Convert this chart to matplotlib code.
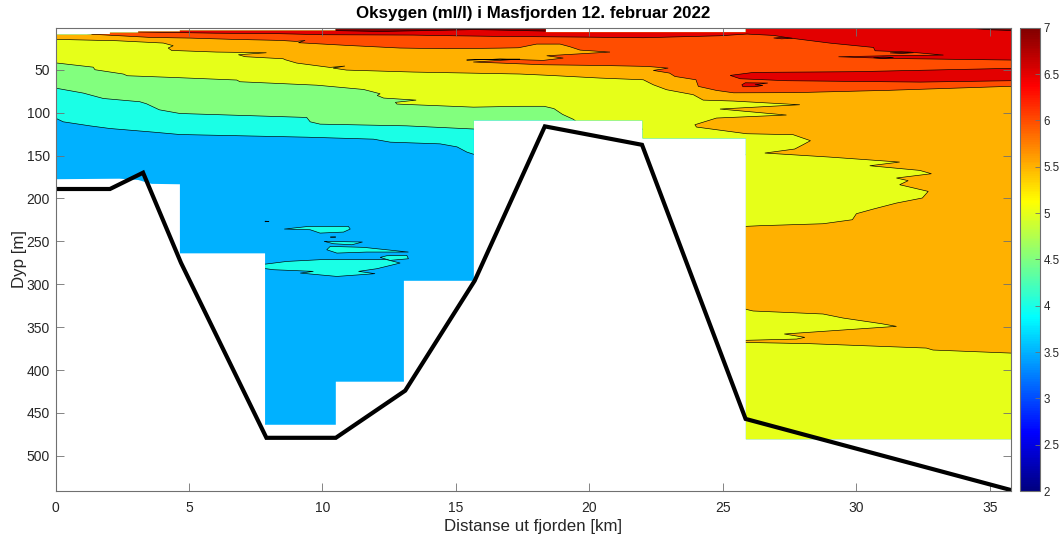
import matplotlib
matplotlib.use('Agg')
import matplotlib.pyplot as plt
from matplotlib.cm import ScalarMappable
from matplotlib.colors import LinearSegmentedColormap, Normalize

plt.rcParams['font.family'] = ['Liberation Sans', 'DejaVu Sans']

# area with measurements (km, m), white outside it
region_x = [0, 1.35, 1.35, 2.04, 2.04, 3.1, 3.1, 4.66, 4.66, 10.5, 10.5, 18.36, 18.36, 25.86, 25.86, 36.5,
            36.5, 25.86, 25.86, 21.99, 21.99, 15.67, 15.67, 13.05, 13.05, 10.5, 10.5, 7.85, 7.85, 4.66, 4.66,
            3.6, 3.1, 2.4, 0]
region_d = [9.2, 9.2, 8.4, 8.4, 6.9, 6.9, 5.7, 5.7, 4.5, 4.5, 0, 0, 6.4, 6.4, 0, 0,
            480.7, 480.7, 130, 130, 109, 109, 296, 296, 413.6, 413.6, 463.8, 463.8, 264, 264, 183.5,
            183, 178.5, 177, 177.6]

# bottom profile
bottom_x = [0, 2.04, 3.28, 4.7, 7.9, 10.5, 13.1, 15.7, 18.33, 21.97, 25.85, 35.8]
bottom_d = [189, 189, 170, 275, 479, 479, 424, 296, 116, 137.5, 457, 540]

# isolines, each one bounds the water above it
iso40_x = [-1, 0, .29, 1.29, 2.04, 3.66, 4.66, 9.41, 11.91, 12.54, 14.41, 15.04, 15.41, 15.73, 37]
iso40_d = [106, 106.4, 110.7, 115.4, 118.5, 122.7, 125.5, 128.6, 130.9, 134.4, 136.4, 139.9, 146, 149.2, 149.2]

iso45_x = [-1, 0, 1.04, 1.79, 3.16, 3.41, 3.89, 4.66, 9.41, 9.54, 9.91, 13.16, 15.73, 37]
iso45_d = [71, 71.4, 77.2, 83.5, 87.3, 89.7, 96.7, 101, 105.6, 110.7, 113.4, 115.4, 119.2, 119.2]

iso50_x = [-1, 0, 1.41, 1.48, 2.54, 2.69, 4.41, 6.79, 6.91, 9.79, 11.54, 12.16, 12.05, 12.29, 13.51, 12.73, 12.79,
           15.66, 17.42, 18.3, 18.67, 18.99, 19.4, 19.7, 21.9, 25.5, 25.5, 37]
iso50_d = [42, 42, 47, 50, 55, 57, 59, 62, 64, 68, 73, 78, 80, 83, 85.4, 88, 90,
           93.6, 92.6, 92.6, 95.3, 102, 107.8, 115, 135, 135, 500, 500]

iso55_x = [-1, 0, 2.29, 4.04, 4.41, 4.22, 4.35, 6.03, 7.9, 6.85, 7.1, 8.53, 8.6, 9.03, 10.28, 10.84, 10.4, 10.9,
           13.4, 17.4, 18.52, 20.39, 22.02, 22.39, 22.89, 23.89, 24.26, 25.39, 27.88, 24.89, 27.38, 24.76, 23.95,
           24.01, 25.89, 27.63, 28.28, 28, 27.69, 26.57, 29, 31.62, 30.5, 32.37, 32.81, 31.5, 31.94, 31.62, 32.69,
           32.47, 31.5, 30.63, 30, 29.85, 28.75, 26.38, 25.82, 25, 25, 25.82, 26.13, 28.75, 29.5, 30.94, 31.5,
           27.3, 28.07, 27.76, 25.82, 25, 25, 25.82, 28.26, 32.62, 32.87, 35.74, 36.5]
iso55_d = [14.6, 14.6, 16.2, 18.9, 22, 24.7, 27.5, 29.4, 30.2, 32.5, 34.8, 37.2, 38.3, 42.2, 47.3, 45.7, 48.1, 50.4,
           52.7, 55, 56.6, 59.7, 61.7, 67.5, 73.3, 79.1, 85.4, 86.5, 90.8, 95.8, 102.8, 106.3, 114.1,
           116.8, 124.6, 125.7, 132.7, 137.4, 142.4, 147.1, 151.8, 157.6, 161.9, 167.3, 171.2, 176.2, 179.3, 184, 191.8,
           199.5, 205.4, 212.4, 217.8, 224.8, 229.5, 231.8, 232.6, 232.6, 328, 328.9, 331.2, 334.7, 339.4, 346, 349.1,
           358, 361.9, 363.9, 365.4, 365.4, 368, 367.8, 369.3, 374.4, 376.7, 380.2, 381]

iso60_x = [1.2, 1.35, 3.54, 5.04, 6.66, 8.41, 9.03, 9.35, 9.1, 10.9, 12.9, 14.65, 16.65, 17.34, 18.02, 18.9, 19.27,
           19.65, 20.77, 18.4, 19.02, 18.27, 16.65, 15.4, 16.65, 17.4, 15.65, 16.65, 18.27, 20.4, 22.14, 22.95, 22.39,
           23, 23.2, 23.99, 24.08, 24.76, 25.4, 27.68, 31.2, 35.8, 36.5]
iso60_d = [8.2, 8.6, 12.3, 13.1, 14.6, 15.8, 17, 15.8, 18.5, 21.6, 24.7, 25.5, 24.8, 24.4, 20.1, 20.1, 23.2,
           27.1, 29.4, 33.7, 36.4, 39.1, 37.6, 38.7, 37.6, 37.6, 41, 42.2, 44.2, 45, 46.1, 48.1, 50.8,
           53.9, 57.8, 61.7, 69.4, 74.1, 76.9, 76.7, 74, 69.3, 68.8]

iso65_x = [3, 3.1, 4.66, 6, 8.41, 10.03, 13.4, 14.9, 16.65, 19.96, 22.02, 24.89, 25.9, 26.9, 27.52, 29.02, 30.64, 30.7,
           32, 33.26, 31.14, 29.33, 31.14, 35.76, 36.5]
iso65_d = [5.5, 6, 6.7, 7.4, 8, 9.2, 9.6, 10.4, 11.15, 12, 12.7, 10.4, 8.4, 10, 13.1, 19, 24, 27.9,
           29.4, 32.9, 33.7, 34.9, 36.8, 38.7, 39]

# closed patches inside a band
lens65_x = [[25.27, 26.15, 29.9, 35.76, 36.5, 36.5, 35.76, 32.4, 27.4, 25.65],
            [25.71, 25.84, 26.68, 26.2, 26.5, 26.2, 25.75],
            [26.9, 27.2, 27.6, 27.2]]
lens65_d = [[56.6, 53.1, 52.3, 48.4, 48, 62.6, 62.8, 64.4, 62.8, 60.5],
            [67.5, 65.2, 65.5, 67.5, 68.3, 69.8, 69.8],
            [13, 12.4, 13.2, 14]]

lens70_x = [[10.4, 10.5, 12.15, 14.65, 15.71, 17, 18.4, 18.4],
            [34.13, 35, 35.76, 36.5, 36.5, 34.13],
            [31.26, 31.7, 32.14, 31.7],
            [30.64, 31, 31.39, 31]]
lens70_d = [[0, 4.4, 5.4, 3.9, 3.2, 4, 5, 0],
            [1.4, 3.4, 4.2, 4.3, 0, 0],
            [30.4, 29.5, 30.2, 31],
            [36, 35.2, 35.6, 37]]

lens40_x = [[8.57, 9.48, 10.97, 11.04, 10.79, 9.91, 9.54],
            [10.06, 11.5, 11.1, 10.41],
            [10.16, 10.29, 11.54, 13.22, 11.66, 10.54],
            [12.16, 12.41, 13.16, 13.22, 12.53],
            [7.5, 7.88, 8.67, 9.91, 12.41, 12.91, 12.04, 11.35, 11.97, 10.54, 9.17, 9.66, 8.17, 7.88, 7.5],
            [7.85, 8, 7.85],
            [10.3, 10.5, 10.3]]
lens40_d = [[235.7, 232.6, 232.6, 235.7, 239.2, 240.4, 236.5],
            [250, 250.8, 254, 252.8],
            [259.8, 255.9, 257, 262.5, 262.5, 263.7],
            [268.7, 266.8, 266.4, 270.3, 272.2],
            [276.5, 276.5, 273.4, 271.4, 271.4, 275.3, 281.9, 285, 287.7, 290.9, 287, 285, 283.1, 281.9, 281.9],
            [226.5, 226.8, 227.2],
            [244.8, 245, 245.3]]

x_ticks = [0, 5, 10, 15, 20, 25, 30, 35]
y_ticks = [50, 100, 150, 200, 250, 300, 350, 400, 450, 500]
cbar_ticks = [2, 2.5, 3, 3.5, 4, 4.5, 5, 5.5, 6, 6.5, 7]

norm = Normalize(2, 7)
# matlab's jet, a bit different from the one in matplotlib
cmap = LinearSegmentedColormap.from_list('mjet', [(0, (0, 0, .5)), (.125, (0, 0, 1)), (.375, (0, 1, 1)),
                                                  (.625, (1, 1, 0)), (.875, (1, 0, 0)), (1, (.5, 0, 0))], N=256)
W, H = 1060, 538
grey = '#707070'
txt = '#262626'

fig = plt.figure(figsize=(W / 100, H / 100), dpi=100)
ax = fig.add_axes([55.5 / W, (H - 491) / H, 955.2 / W, 463.3 / H])

region = ax.fill(region_x, region_d, facecolor=cmap(norm(3.5)), linewidth=0)[0]


def band(xs, ds, level):
    p = ax.fill(xs, ds, facecolor=cmap(norm(level)), edgecolor='k', linewidth=0.45)[0]
    p.set_clip_path(region)


def above(xs, ds, level):
    band(xs + [xs[-1], xs[0]], ds + [-5, -5], level)


above(iso40_x, iso40_d, 4.0)
for xs, ds in zip(lens40_x, lens40_d):
    band(xs, ds, 4.0)
above(iso45_x, iso45_d, 4.5)
above(iso50_x, iso50_d, 5.0)
above(iso55_x, iso55_d, 5.5)
above(iso60_x, iso60_d, 6.0)
above(iso65_x, iso65_d, 6.5)
for xs, ds in zip(lens65_x, lens65_d):
    band(xs, ds, 6.5)
for xs, ds in zip(lens70_x, lens70_d):
    band(xs, ds, 7.0)

ax.plot(bottom_x, bottom_d, color='k', linewidth=3, solid_joinstyle='miter')

ax.set_xlim(0, 35.78)
ax.set_ylim(541, 1)
ax.set_xticks(x_ticks)
ax.set_yticks(y_ticks)
ax.tick_params(direction='in', length=6, width=0.6, color=grey, top=True, right=True, labelsize=10,
               labelcolor=txt)
ax.tick_params(axis='x', pad=7)
ax.tick_params(axis='y', pad=4)
for s in ax.spines.values():
    s.set_color(grey)
    s.set_linewidth(0.8)
ax.set_xlabel('Distanse ut fjorden [km]', fontsize=12.2, color=txt, labelpad=3)
ax.set_ylabel('Dyp [m]', fontsize=12.2, color=txt, labelpad=0)
ax.set_title('Oksygen (ml/l) i Masfjorden 12. februar 2022', fontsize=12.2, fontweight='bold', color='k', pad=7)

cax = fig.add_axes([1019.5 / W, (H - 491) / H, 20 / W, 463.3 / H])
cb = fig.colorbar(ScalarMappable(norm=norm, cmap=cmap), cax=cax)
cb.set_ticks(cbar_ticks)
cb.set_ticklabels(['2', '2.5', '3', '3.5', '4', '4.5', '5', '5.5', '6', '6.5', '7'])
cax.tick_params(direction='in', length=3.5, width=0.6, color=grey, labelsize=8.3, labelcolor=txt, pad=3)
cb.outline.set_edgecolor(grey)
cb.outline.set_linewidth(0.8)

fig.savefig('out.png', dpi=100)
